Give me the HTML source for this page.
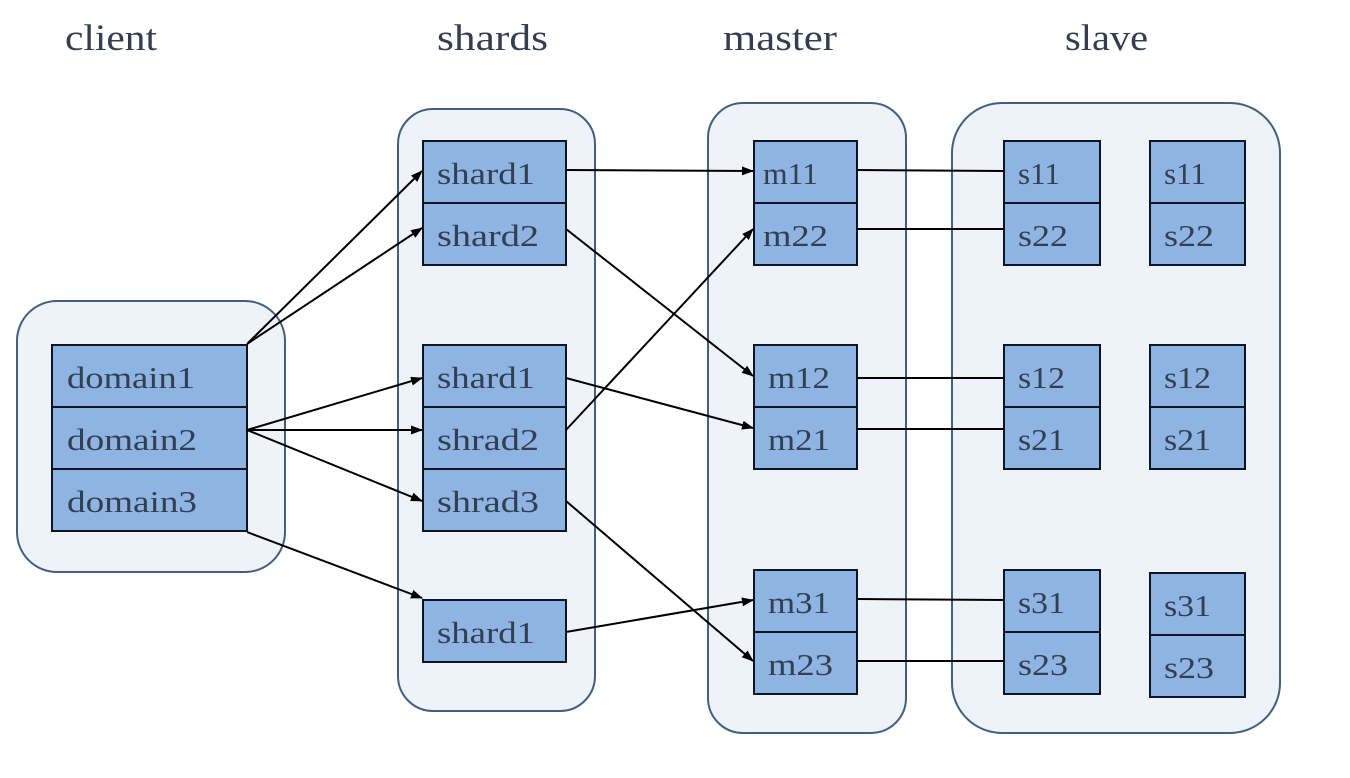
<!DOCTYPE html>
<html><head><meta charset="utf-8"><style>
html,body{margin:0;padding:0;background:#fff;}
svg text{font-family:"Liberation Serif",serif;fill:#333f4f;}
</style></head><body>
<svg width="1350" height="773" viewBox="0 0 1350 773" xmlns="http://www.w3.org/2000/svg">
<defs><marker id="a" markerWidth="12" markerHeight="9" refX="11" refY="4.5" orient="auto" markerUnits="userSpaceOnUse"><path d="M0,0 L12,4.5 L0,9 z" fill="#000"/></marker></defs>
<g font-size="37">
<text x="65" y="50" textLength="92" lengthAdjust="spacingAndGlyphs">client</text><text x="437" y="50" textLength="111" lengthAdjust="spacingAndGlyphs">shards</text><text x="723" y="50" textLength="114" lengthAdjust="spacingAndGlyphs">master</text><text x="1065" y="50" textLength="83" lengthAdjust="spacingAndGlyphs">slave</text>
</g>
<g fill="#eef3f9" stroke="#41607f" stroke-width="2">
<rect x="17" y="301" width="268" height="271" rx="40"/>
<rect x="398" y="109" width="197" height="602" rx="35"/>
<rect x="708" y="103" width="198" height="630" rx="35"/>
<rect x="952" y="103" width="328" height="630" rx="50"/>
</g>
<g fill="#8db4e2" stroke="#0d1620" stroke-width="2">
<rect x="52" y="345" width="195" height="62"/><rect x="52" y="407" width="195" height="62"/><rect x="52" y="469" width="195" height="62"/>
<rect x="423" y="141" width="143" height="62"/><rect x="423" y="203" width="143" height="62"/>
<rect x="423" y="345" width="143" height="62"/><rect x="423" y="407" width="143" height="62"/><rect x="423" y="469" width="143" height="62"/>
<rect x="423" y="600" width="143" height="62"/>
<rect x="754" y="141" width="103" height="62"/><rect x="754" y="203" width="103" height="62"/>
<rect x="754" y="345" width="103" height="62"/><rect x="754" y="407" width="103" height="62"/>
<rect x="754" y="570" width="103" height="62"/><rect x="754" y="632" width="103" height="62"/>
<rect x="1004" y="141" width="96" height="62"/><rect x="1004" y="203" width="96" height="62"/>
<rect x="1004" y="345" width="96" height="62"/><rect x="1004" y="407" width="96" height="62"/>
<rect x="1004" y="570" width="96" height="62"/><rect x="1004" y="632" width="96" height="62"/>
<rect x="1150" y="141" width="95" height="62"/><rect x="1150" y="203" width="95" height="62"/>
<rect x="1150" y="345" width="95" height="62"/><rect x="1150" y="407" width="95" height="62"/>
<rect x="1150" y="573" width="95" height="62"/><rect x="1150" y="635" width="95" height="62"/>
</g>
<g font-size="31">
<text x="67" y="388" textLength="128" lengthAdjust="spacingAndGlyphs">domain1</text><text x="67" y="450" textLength="130" lengthAdjust="spacingAndGlyphs">domain2</text><text x="67" y="512" textLength="130" lengthAdjust="spacingAndGlyphs">domain3</text>
<text x="437" y="184" textLength="98" lengthAdjust="spacingAndGlyphs">shard1</text><text x="437" y="246" textLength="102" lengthAdjust="spacingAndGlyphs">shard2</text>
<text x="437" y="388" textLength="98" lengthAdjust="spacingAndGlyphs">shard1</text><text x="437" y="450" textLength="102" lengthAdjust="spacingAndGlyphs">shrad2</text><text x="437" y="512" textLength="102" lengthAdjust="spacingAndGlyphs">shrad3</text>
<text x="437" y="643" textLength="98" lengthAdjust="spacingAndGlyphs">shard1</text>
<text x="763" y="184" textLength="55" lengthAdjust="spacingAndGlyphs">m11</text><text x="763" y="246" textLength="65" lengthAdjust="spacingAndGlyphs">m22</text>
<text x="768" y="388" textLength="62" lengthAdjust="spacingAndGlyphs">m12</text><text x="768" y="450" textLength="62" lengthAdjust="spacingAndGlyphs">m21</text>
<text x="768" y="613" textLength="62" lengthAdjust="spacingAndGlyphs">m31</text><text x="768" y="675" textLength="65" lengthAdjust="spacingAndGlyphs">m23</text>
<text x="1018" y="184" textLength="42" lengthAdjust="spacingAndGlyphs">s11</text><text x="1018" y="246" textLength="50" lengthAdjust="spacingAndGlyphs">s22</text>
<text x="1018" y="388" textLength="47" lengthAdjust="spacingAndGlyphs">s12</text><text x="1018" y="450" textLength="47" lengthAdjust="spacingAndGlyphs">s21</text>
<text x="1018" y="613" textLength="47" lengthAdjust="spacingAndGlyphs">s31</text><text x="1018" y="675" textLength="50" lengthAdjust="spacingAndGlyphs">s23</text>
<text x="1164" y="184" textLength="42" lengthAdjust="spacingAndGlyphs">s11</text><text x="1164" y="246" textLength="50" lengthAdjust="spacingAndGlyphs">s22</text>
<text x="1164" y="388" textLength="47" lengthAdjust="spacingAndGlyphs">s12</text><text x="1164" y="450" textLength="47" lengthAdjust="spacingAndGlyphs">s21</text>
<text x="1164" y="616" textLength="47" lengthAdjust="spacingAndGlyphs">s31</text><text x="1164" y="678" textLength="50" lengthAdjust="spacingAndGlyphs">s23</text>
</g>
<g stroke="#000" stroke-width="2" fill="none" marker-end="url(#a)">
<line x1="247" y1="344" x2="422" y2="171"/>
<line x1="247" y1="344" x2="422" y2="228"/>
<line x1="247" y1="430" x2="422" y2="378"/>
<line x1="247" y1="430" x2="422" y2="430"/>
<line x1="247" y1="430" x2="422" y2="501"/>
<line x1="247" y1="532" x2="422" y2="598"/>
<line x1="566" y1="170" x2="753" y2="171"/>
<line x1="566" y1="229" x2="753" y2="376"/>
<line x1="566" y1="378" x2="753" y2="428"/>
<line x1="566" y1="430" x2="753" y2="229"/>
<line x1="566" y1="501" x2="753" y2="661"/>
<line x1="566" y1="632" x2="753" y2="600"/>
</g>
<g stroke="#000" stroke-width="2">
<line x1="857" y1="170" x2="1004" y2="171"/>
<line x1="857" y1="229" x2="1004" y2="229"/>
<line x1="857" y1="378" x2="1004" y2="378"/>
<line x1="857" y1="429" x2="1004" y2="429"/>
<line x1="857" y1="599" x2="1004" y2="600"/>
<line x1="857" y1="661" x2="1004" y2="661"/>
</g>
</svg>
</body></html>
